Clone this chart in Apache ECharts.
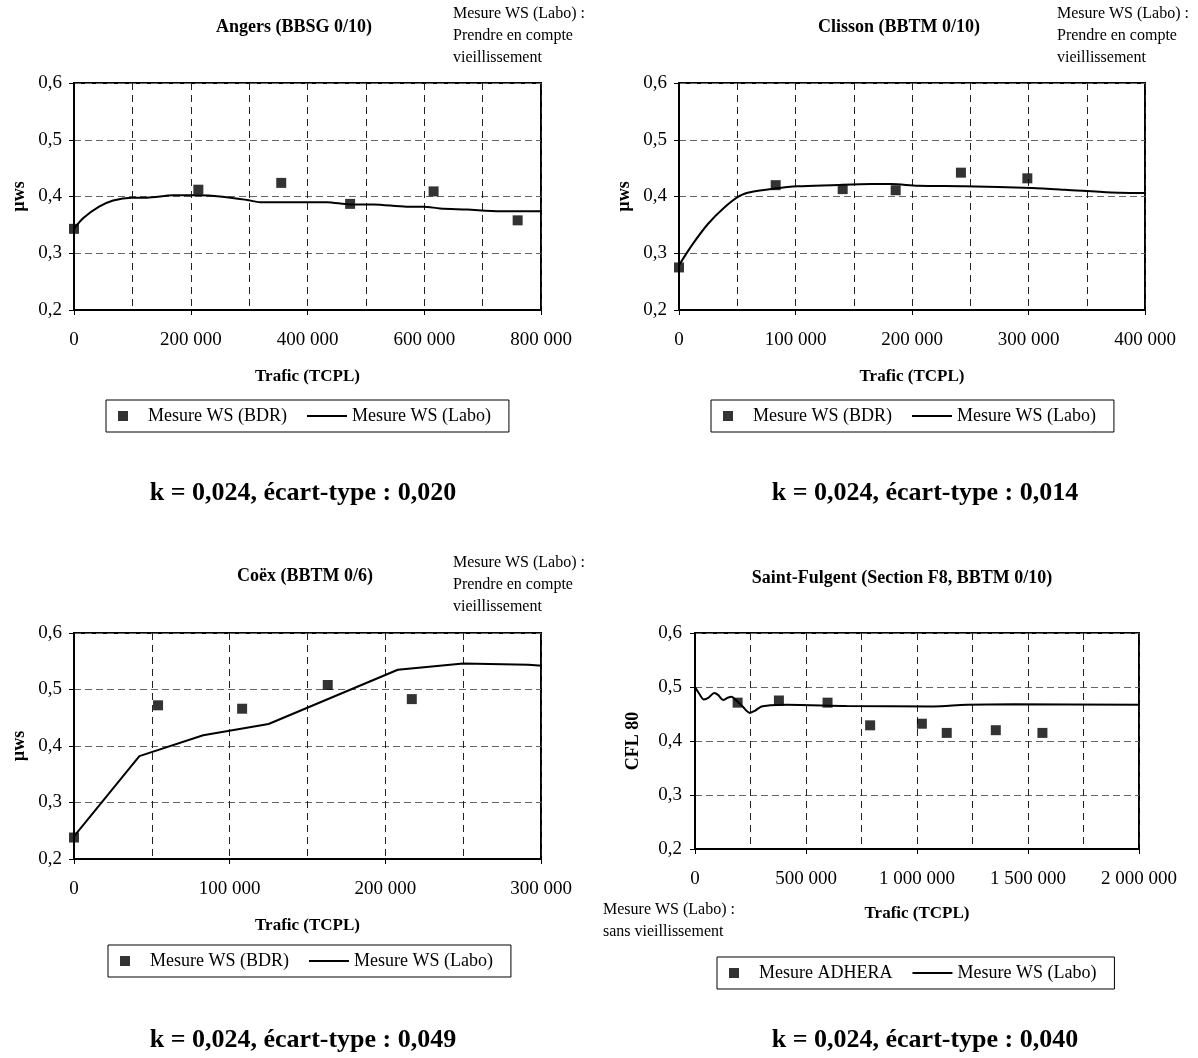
<!DOCTYPE html>
<html>
<head>
<meta charset="utf-8">
<script src="https://cdn.jsdelivr.net/npm/echarts@6/dist/echarts.min.js"></script>
<style>html,body{margin:0;padding:0;background:#fff;}#c{width:1198px;height:1058px;}</style>
</head>
<body>
<div id="c"></div>
<script>
// ---- Data ----
const angersBdrX = [0, 213000, 355000, 473000, 616000, 760000];
const angersBdrY = [0.343, 0.412, 0.424, 0.387, 0.409, 0.358];
const angersLaboX = [0, 16000, 43000, 67000, 99000, 125000, 170000, 213000, 250000, 296000, 319000, 376000, 433000, 473000, 513000, 570000, 599000, 627000, 673000, 730000, 800000, 811000];
const angersLaboY = [0.343, 0.362, 0.382, 0.393, 0.398, 0.398, 0.402, 0.402, 0.400, 0.394, 0.390, 0.390, 0.390, 0.386, 0.386, 0.382, 0.382, 0.379, 0.377, 0.374, 0.374, 0.373];

const clissonBdrX = [0, 83000, 140500, 186000, 242000, 299000];
const clissonBdrY = [0.275, 0.420, 0.413, 0.411, 0.442, 0.432];
const clissonLaboX = [0, 11000, 25000, 38000, 52000, 62000, 82000, 102000, 131000, 165000, 182000, 205000, 245000, 303000, 331000, 371000, 400000, 405000];
const clissonLaboY = [0.279, 0.314, 0.352, 0.379, 0.401, 0.408, 0.414, 0.418, 0.420, 0.422, 0.422, 0.419, 0.418, 0.415, 0.412, 0.407, 0.406, 0.405];

const coexBdrX = [0, 54000, 108000, 163000, 217000];
const coexBdrY = [0.238, 0.472, 0.466, 0.508, 0.483];
const coexLaboX = [0, 42000, 83000, 125000, 208000, 250000, 292000, 305000];
const coexLaboY = [0.240, 0.382, 0.419, 0.439, 0.535, 0.546, 0.544, 0.541];

const sfAdheraX = [192000, 378000, 597000, 789000, 1022000, 1134000, 1355000, 1565000];
const sfAdheraY = [0.471, 0.475, 0.471, 0.429, 0.432, 0.415, 0.420, 0.415];
const sfLaboX = [0, 20000, 40000, 60000, 87000, 105000, 127000, 147000, 165000, 184000, 210000, 247000, 270000, 300000, 337000, 412000, 683000, 1073000, 1223000, 1433000, 2025000];
const sfLaboY = [0.500, 0.487, 0.477, 0.480, 0.489, 0.485, 0.476, 0.480, 0.482, 0.476, 0.466, 0.452, 0.456, 0.464, 0.466, 0.467, 0.465, 0.464, 0.467, 0.468, 0.467];

const panelTitles = ['Angers (BBSG 0/10)', 'Clisson (BBTM 0/10)', 'Coëx (BBTM 0/6)', 'Saint-Fulgent (Section F8, BBTM 0/10)'];
const kTexts = ['k = 0,024, écart-type : 0,020', 'k = 0,024, écart-type : 0,014', 'k = 0,024, écart-type : 0,049', 'k = 0,024, écart-type : 0,040'];
const yNames = ['µws', 'µws', 'µws', 'CFL 80'];
const xName = 'Trafic (TCPL)';
const noteAging = 'Mesure WS (Labo) :\nPrendre en compte\nvieillissement';
const noteNoAging = 'Mesure WS (Labo) :\nsans vieillissement';
const sBDR = 'Mesure WS (BDR)', sLabo = 'Mesure WS (Labo)', sAdhera = 'Mesure ADHERA';
const xMax = [800000, 400000, 300000, 2000000];
const xInterval = [200000, 100000, 100000, 500000];

// ---- helpers ----
const zip = (a, b) => a.map((v, i) => [v, b[i]]);
const FONT = "'Liberation Serif', 'Times New Roman', serif";
const fmtX = v => String(v).replace(/\B(?=(\d{3})+(?!\d))/g, ' ');
const fmtY = v => v.toFixed(1).replace('.', ',');

const grids = [
  {left: 74, top: 83, width: 467, height: 227},
  {left: 679, top: 83, width: 466, height: 227},
  {left: 74, top: 633, width: 467, height: 226},
  {left: 695, top: 633, width: 444, height: 216}
];
const yNameGap = [46, 46, 46, 53];
const xNameGap = [58, 58, 58, 56];

const xAxes = grids.map((g, i) => ({
  type: 'value', gridIndex: i, min: 0, max: xMax[i], interval: xInterval[i],
  name: xName, nameLocation: 'middle', nameGap: xNameGap[i],
  nameTextStyle: {fontFamily: FONT, fontWeight: 'bold', fontSize: 17, color: '#000'},
  axisLine: {show: true, onZero: false, lineStyle: {color: '#000', width: 2}},
  axisTick: {show: true, inside: false, length: 5, lineStyle: {color: '#000', width: 1}},
  axisLabel: {formatter: fmtX, fontFamily: FONT, fontSize: 19, color: '#000', margin: 21},
  splitLine: {show: true, lineStyle: {color: '#222', type: [7, 5], width: 1}},
  minorTick: {show: false, splitNumber: 2},
  minorSplitLine: {show: true, lineStyle: {color: '#222', type: [7, 5], width: 1}}
}));
const yAxes = grids.map((g, i) => ({
  type: 'value', gridIndex: i, min: 0.2, max: 0.6, interval: 0.1,
  name: yNames[i], nameLocation: 'middle', nameGap: yNameGap[i], nameRotate: 90,
  nameTextStyle: {fontFamily: FONT, fontWeight: 'bold', fontSize: 18, color: '#000'},
  axisLine: {show: true, onZero: false, lineStyle: {color: '#000', width: 2}},
  axisTick: {show: true, inside: false, length: 5, lineStyle: {color: '#000', width: 1}},
  axisLabel: {formatter: fmtY, fontFamily: FONT, fontSize: 19, color: '#000', margin: i === 3 ? 13 : 12},
  splitLine: {show: true, lineStyle: {color: '#666', type: [7, 4], width: 1}}
}));

const scatter = (name, i, x, y) => ({
  type: 'scatter', name, xAxisIndex: i, yAxisIndex: i, data: zip(x, y),
  symbol: 'rect', symbolSize: 10, itemStyle: {color: '#000'}, z: 5
});
const line = (name, i, x, y, smooth) => ({
  type: 'line', name, xAxisIndex: i, yAxisIndex: i, data: zip(x, y),
  symbol: 'none', showSymbol: false, smooth, clip: false, lineStyle: {color: '#000', width: 2}, itemStyle: {color: '#000'}, z: 4
});

const sqIcon = 'path://M0,0L10,0L10,10L0,10Z';
const lineIcon = 'path://M0,0L40,0L40,2L0,2Z';
const legendBase = (left, top, names) => ({
  left, top, orient: 'horizontal', itemWidth: 40, itemHeight: 10, itemGap: 20,
  symbolKeepAspect: true,
  padding: [7, 18, 7, 12], borderColor: '#000', borderWidth: 1, backgroundColor: '#fff',
  textStyle: {fontFamily: FONT, fontSize: 18, color: '#000'},
  selectedMode: false,
  data: [{name: names[0], icon: sqIcon}, {name: names[1], icon: lineIcon}]
});

const titlePos = [[294, 27], [899, 27], [305, 576], [902, 578]];
const kPos = [[303, 493], [925, 493], [303, 1040], [925, 1040]];
const notes = [
  {x: 453, y: 3, text: noteAging},
  {x: 1057, y: 3, text: noteAging},
  {x: 453, y: 552, text: noteAging},
  {x: 603, y: 899, text: noteNoAging}
];

const graphics = [];
panelTitles.forEach((t, i) => graphics.push({type: 'text', x: titlePos[i][0], y: titlePos[i][1], style: {text: t, fill: '#000', font: 'bold 18px ' + FONT, align: 'center', verticalAlign: 'middle'}}));
kTexts.forEach((t, i) => graphics.push({type: 'text', x: kPos[i][0], y: kPos[i][1], style: {text: t, fill: '#000', font: 'bold 26px ' + FONT, align: 'center', verticalAlign: 'middle'}}));
notes.forEach(n => graphics.push({type: 'text', x: n.x, y: n.y, style: {text: n.text, fill: '#000', font: '16px ' + FONT, lineHeight: 22, align: 'left', verticalAlign: 'top'}}));

const option = {
  animation: false,
  backgroundColor: '#fff',
  grid: grids.map(g => Object.assign({show: true, borderColor: '#000', borderWidth: 2, backgroundColor: 'transparent', containLabel: false}, g)),
  xAxis: xAxes,
  yAxis: yAxes,
  legend: [
    legendBase(106, 400, [sBDR, sLabo]),
    legendBase(711, 400, [sBDR, sLabo]),
    legendBase(108, 945, [sBDR, sLabo]),
    legendBase(717, 957, [sAdhera, sLabo])
  ],
  series: [
    scatter(sBDR, 0, angersBdrX, angersBdrY), line(sLabo, 0, angersLaboX, angersLaboY, 0.3),
    scatter(sBDR, 1, clissonBdrX, clissonBdrY), line(sLabo, 1, clissonLaboX, clissonLaboY, 0.3),
    scatter(sBDR, 2, coexBdrX, coexBdrY), line(sLabo, 2, coexLaboX, coexLaboY, false),
    scatter(sAdhera, 3, sfAdheraX, sfAdheraY), line(sLabo, 3, sfLaboX, sfLaboY, 0.3)
  ],
  graphic: graphics
};
const chart = echarts.init(document.getElementById('c'), null, {renderer: 'canvas'});
chart.setOption(option);
</script>
</body>
</html>
